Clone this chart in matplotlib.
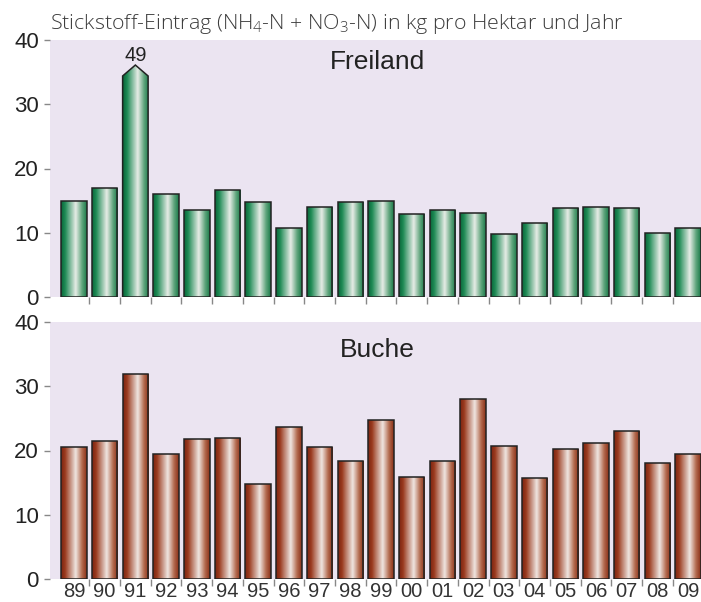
import numpy as np
import matplotlib
matplotlib.use("Agg")
import matplotlib.pyplot as plt
from matplotlib.colors import LinearSegmentedColormap
from matplotlib.patches import Polygon

years = ["89", "90", "91", "92", "93", "94", "95", "96", "97", "98", "99",
         "00", "01", "02", "03", "04", "05", "06", "07", "08", "09"]
freiland = [15.0, 17.0, 49.0, 16.1, 13.6, 16.6, 14.8, 10.7, 14.0, 14.8, 15.0,
            12.9, 13.5, 13.1, 9.8, 11.5, 13.9, 14.0, 13.9, 10.0, 10.8]
buche = [20.5, 21.5, 31.9, 19.5, 21.8, 21.9, 14.8, 23.6, 20.6, 18.3, 24.7,
         15.8, 18.3, 28.0, 20.7, 15.7, 20.2, 21.1, 23.0, 18.0, 19.4]
yticks = [0, 10, 20, 30, 40]
title = "Stickstoff-Eintrag (NH$_\\mathregular{4}$-N + NO$_\\mathregular{3}$-N) in kg pro Hektar und Jahr"
panel_names = ["Freiland", "Buche"]
cap_value = 34.4   # truncated display height for out-of-range bar
tip_extra = 1.7

plt.rcParams['mathtext.fontset'] = 'custom'
plt.rcParams['mathtext.rm'] = 'Open Sans'

bg = '#EBE4F1'
green_cmap = LinearSegmentedColormap.from_list(
    'g', [(0.0, '#0a663a'), (0.15, '#1d8a54'), (0.57, '#e6ece6'),
          (0.82, '#5fa57c'), (1.0, '#1c7a4a')])
brown_cmap = LinearSegmentedColormap.from_list(
    'b', [(0.0, '#7c2411'), (0.15, '#9a3a1e'), (0.57, '#efe5e0'),
          (0.82, '#b36a4e'), (1.0, '#8a3018')])

fig = plt.figure(figsize=(7.01, 6.02), dpi=100)
W, H = 701, 602
ax_top = fig.add_axes([50 / W, (H - 297) / H, 651 / W, 257 / H])
ax_bot = fig.add_axes([50 / W, (H - 579) / H, 651 / W, 257 / H])

grad = np.linspace(0, 1, 64).reshape(1, -1)
bw = 0.83
x = np.arange(len(years))

def draw_panel(ax, vals, cmap, name, name_y, show_labels):
    ax.set_facecolor(bg)
    for xi, v in zip(x, vals):
        x0, x1 = xi - bw / 2, xi + bw / 2
        if v > 40:
            h = cap_value
            top = h + tip_extra
            poly = Polygon([[x0, 0], [x1, 0], [x1, h], [xi, top], [x0, h]],
                           closed=True, facecolor='none', edgecolor='#222222',
                           lw=1.1, zorder=3)
            ax.add_patch(poly)
            clip = poly
            ax.text(xi, top + 0.05, f"{v:g}", ha='center', va='bottom',
                    fontsize=14.5, family='Liberation Sans', color='#222222',
                    zorder=4)
        else:
            top = v
            rects = ax.bar([xi], [v], width=bw, facecolor='none',
                           edgecolor='#222222', lw=1.1, zorder=3)
            clip = rects[0]
        im = ax.imshow(grad, extent=[x0, x1, 0, top], aspect='auto',
                       cmap=cmap, zorder=2, interpolation='bilinear')
        im.set_clip_path(clip)
    ax.set_xlim(-0.78, 20.42)
    ax.set_ylim(0, 40)
    for s in ax.spines.values():
        s.set_visible(False)
    ax.set_yticks(yticks)
    ax.set_yticklabels([str(t) for t in yticks], fontsize=16,
                       family='Liberation Sans', color='#222222')
    ax.tick_params(axis='y', length=4, width=1, color='#888888', pad=4)
    ax.set_xticks(x[:-1] + 0.5, minor=True)
    ax.set_xticks(x)
    ax.tick_params(axis='x', which='major', length=0, pad=2)
    ax.tick_params(axis='x', which='minor', length=5, width=1, color='#888888')
    if show_labels:
        ax.set_xticklabels(years, fontsize=14.5,
                           family=['Liberation Sans Narrow', 'Liberation Sans'],
                           color='#333333')
    else:
        ax.set_xticklabels([])
    ax.text(0.503, name_y, name, transform=ax.transAxes, ha='center',
            va='baseline', fontsize=19, family='Liberation Sans', color='#222222')

draw_panel(ax_top, freiland, green_cmap, panel_names[0], 0.886, False)
draw_panel(ax_bot, buche, brown_cmap, panel_names[1], 0.863, True)

fig.text(50 / W, (H - 29) / H, title, ha='left', va='baseline', fontsize=15.4,
         family=['Open Sans', 'DejaVu Sans'], fontweight='light', color='#3c3c3c')

fig.savefig("out.png", dpi=100)
